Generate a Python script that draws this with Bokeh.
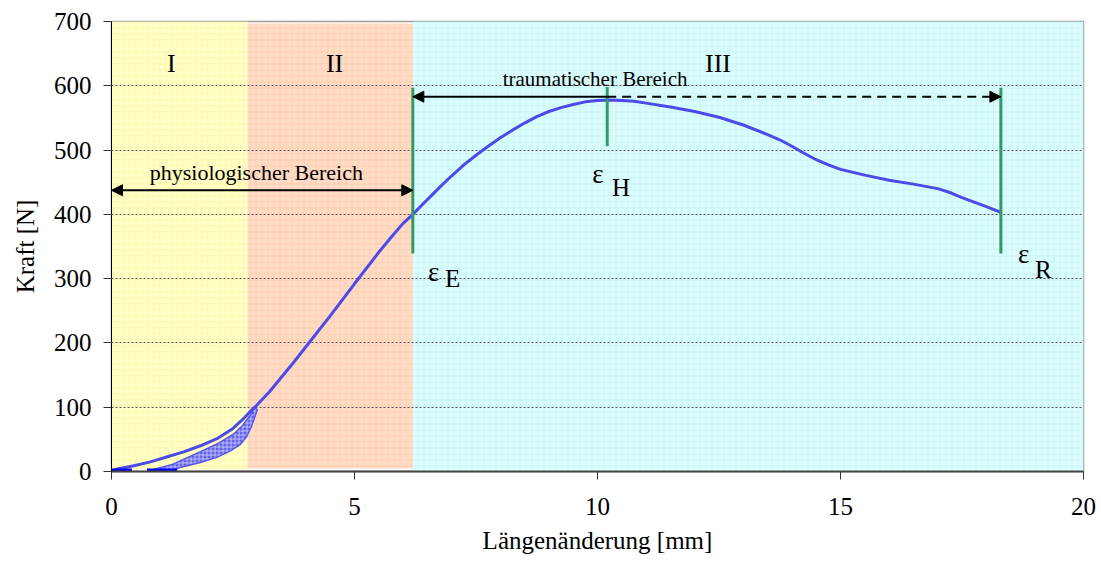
from bokeh.plotting import figure
from bokeh.models import Range1d, FixedTicker, Arrow, NormalHead
from bokeh.core.properties import value
from bokeh.embed import file_html
from bokeh.resources import INLINE

# ---------------- data ----------------
region_left = [0.0, 2.8, 6.2]
region_right = [2.8, 6.2, 20.0]
region_bottom = [3, 5, 0]
region_top = [700, 697, 700]
region_fill = ["#ffffc8", "#ffdcc6", "#dcfdfd"]
region_hatch = ["#fff09a", "#ffc4a2", "#bff0f2"]

loop_x = [0.0, 0.12, 0.46, 0.8, 1.15, 1.5, 1.83, 2.17, 2.5, 2.7, 2.85, 2.95]
loop_y = [0, 4, 9, 15, 23, 31, 40, 51, 67, 81, 93, 100]

band_upper_x = [0.8, 1.25, 1.83, 2.2, 2.51, 2.7, 2.85, 2.95]
band_upper_y = [2, 11, 31, 44, 58, 72, 87, 100]
band_lower_x = [0.75, 1.25, 1.83, 2.17, 2.45, 2.65, 2.78, 2.88, 3.0]
band_lower_y = [0, 3, 14, 22, 32, 42, 54, 70, 96]

curve_x = [2.95, 3.25, 3.5, 3.75, 4.0, 4.5, 5.0, 5.5, 5.75, 6.0, 6.2, 6.5, 6.75,
           7.0, 7.25, 7.5, 7.75, 8.0, 8.25, 8.5, 8.75, 9.0, 9.25, 9.5, 9.75, 10.0,
           10.25, 10.5, 10.75, 11.0, 11.5, 12.0, 12.5, 13.0, 13.5, 13.75, 14.0,
           14.25, 14.5, 14.75, 15.0, 15.5, 16.0, 16.5, 17.0, 17.25, 17.5, 17.75,
           18.0, 18.3]
curve_y = [100, 124, 147, 170, 194, 242, 292, 341, 364, 386, 400, 423, 442,
           460, 477, 492, 506, 519, 531, 542, 552, 560, 566, 571, 575, 577,
           578, 577, 576, 573, 567, 560, 551, 539, 524, 516, 506,
           495, 485, 477, 470, 461, 453, 447, 440, 434, 426, 419,
           412, 403]

seg_x0 = [0.0, 0.73]
seg_x1 = [0.42, 1.35]
seg_y = [1.5, 1.5]

mark_x = [6.2, 10.2, 18.3]
mark_y0 = [339, 506, 339]
mark_y1 = [597, 598, 597]

eps_x = [6.51, 9.89, 18.65]
eps_y = [311, 463, 339]
sub_x = [6.86, 10.3, 19.0]
sub_y = [301, 442, 315]
sub_text = ["E", "H", "R"]

roman_x = [1.23, 4.59, 12.48]
roman_y = [634, 634, 634]
roman_text = ["I", "II", "III"]

phys_arrow = (0.0, 6.2, 437.5)
trauma_arrow_y = 583
trauma_solid = (10.2, 6.2)
trauma_dash = (10.2, 18.3)

x_ticks = [0, 5, 10, 15, 20]
y_ticks = [0, 100, 200, 300, 400, 500, 600, 700]

FONT = "Liberation Serif"
AXFONT = "Liberation Serif"

# ---------------- figure ----------------
p = figure(width=1101, height=562, output_backend="svg", toolbar_location=None,
           x_range=Range1d(0, 20), y_range=Range1d(0, 700),
           min_border_left=111, min_border_right=18, min_border_top=21,
           min_border_bottom=91)
p.background_fill_color = "white"
p.border_fill_color = "white"
p.outline_line_color = "#9a9a9a"
p.outline_line_width = 1.5

p.quad(left=region_left, right=region_right, bottom=region_bottom, top=region_top,
       fill_color=region_fill, line_color=None, hatch_pattern="cross",
       hatch_color=region_hatch, hatch_scale=6, hatch_weight=0.6, level="image")

p.xgrid.visible = False
p.ygrid.ticker = FixedTicker(ticks=[100, 200, 300, 400, 500, 600])
p.ygrid.grid_line_color = "#555555"
p.ygrid.grid_line_dash = "2 2"
p.ygrid.grid_line_width = 1

p.xaxis.ticker = FixedTicker(ticks=x_ticks)
p.yaxis.ticker = FixedTicker(ticks=y_ticks)
p.xaxis.axis_label = "Längenänderung [mm]"
p.yaxis.axis_label = "Kraft [N]"
p.axis.major_label_text_font = AXFONT
p.axis.major_label_text_font_size = "25px"
p.axis.major_label_text_color = "black"
p.axis.axis_label_text_font = AXFONT
p.axis.axis_label_text_font_size = "25px"
p.axis.axis_label_text_font_style = "normal"
p.axis.axis_label_text_color = "black"
p.axis.minor_tick_line_color = None
p.axis.major_tick_in = 0
p.axis.major_tick_out = 8
p.axis.major_tick_line_color = "#333333"
p.xaxis.axis_line_color = "#444444"
p.xaxis.axis_line_width = 2
p.yaxis.axis_line_color = "black"
p.yaxis.axis_line_width = 1
p.xaxis.major_label_standoff = 18
p.xaxis.axis_label_standoff = 9
p.yaxis.major_label_standoff = 12
p.yaxis.axis_label_standoff = 12

band_xs = band_upper_x + band_lower_x[::-1]
band_ys = band_upper_y + band_lower_y[::-1]
p.patch(band_xs, band_ys, fill_color="#6464ec", line_color="#5a5aea", line_width=1.5,
        hatch_pattern="cross", hatch_color="#dedefa", hatch_scale=4, hatch_weight=0.7)

p.line(loop_x, loop_y, line_color="#4b4bea", line_width=3)
p.line(curve_x, curve_y, line_color="#4b4bea", line_width=3)
p.segment(x0=seg_x0, y0=seg_y, x1=seg_x1, y1=seg_y, line_color="#0000ff", line_width=4)

p.segment(x0=mark_x, y0=mark_y0, x1=mark_x, y1=mark_y1, line_color="#339966", line_width=3)

def head():
    return NormalHead(size=11, fill_color="black", line_color="black")

p.add_layout(Arrow(start=head(), end=head(), x_start=phys_arrow[0], x_end=phys_arrow[1],
                   y_start=phys_arrow[2], y_end=phys_arrow[2], line_width=2, line_color="black"))
p.add_layout(Arrow(end=head(), x_start=trauma_solid[0], x_end=trauma_solid[1],
                   y_start=trauma_arrow_y, y_end=trauma_arrow_y, line_width=2, line_color="black"))
p.add_layout(Arrow(end=head(), x_start=trauma_dash[0], x_end=trauma_dash[1],
                   y_start=trauma_arrow_y, y_end=trauma_arrow_y, line_width=2,
                   line_color="black", line_dash="9 6"))

p.text(x=roman_x, y=roman_y, text=roman_text, text_font=value(FONT), text_font_size="26px",
       text_align="center", text_baseline="alphabetic", text_color="black")
p.text(x=[2.98], y=[465], text=["physiologischer Bereich"], text_font=value(FONT),
       text_font_size="22px", text_align="center", text_baseline="alphabetic", text_color="black")
p.text(x=[9.95], y=[611], text=["traumatischer Bereich"], text_font=value(FONT),
       text_font_size="21px", text_align="center", text_baseline="alphabetic", text_color="black")
p.text(x=eps_x, y=eps_y, text=["ε"] * 3, text_font=value(FONT), text_font_size="27px",
       text_align="left", text_baseline="alphabetic", text_color="black")
p.text(x=sub_x, y=sub_y, text=sub_text, text_font=value(FONT), text_font_size="25px",
       text_align="left", text_baseline="alphabetic", text_color="black")

open("out.html", "w").write(file_html(p, INLINE))
